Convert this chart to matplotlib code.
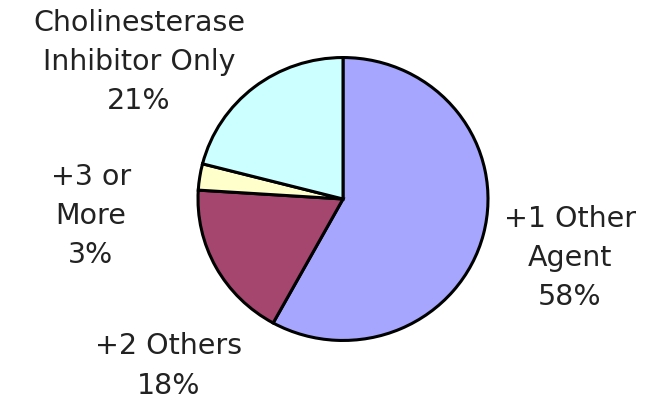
import matplotlib.pyplot as plt

plt.rcParams['font.family'] = ['DejaVu Sans']

shares = [58, 18, 3, 21]
names = ['+1 Other\nAgent', '+2 Others', '+3 or\nMore', 'Cholinesterase\nInhibitor Only']
colors = ['#A6A6FF', '#A5466F', '#FFFFCC', '#CCFFFF']

# label centres in pixels (x, y from top)
label_pos = [(570, 258), (169, 366), (91, 216), (139, 62)]

fig = plt.figure(figsize=(6.54, 4.0), dpi=100)
ax = fig.add_axes([0, 0, 1, 1])

cx, cy = 343, (400 - 199) * 410 / 400
ax.pie(shares, colors=colors, startangle=90, counterclock=False,
       center=(cx, cy), radius=145, frame=True,
       wedgeprops=dict(edgecolor='black', linewidth=2.2))
ax.set_xlim(0, 654)
ax.set_ylim(0, 410)
ax.set_aspect('auto')
ax.axis('off')

for name, val, (px, py) in zip(names, shares, label_pos):
    fig.text(px / 654, 1 - py / 400, '%s\n%d%%' % (name, val),
             ha='center', va='center', fontsize=20.5, linespacing=1.5,
             color='#222222')

fig.savefig('out.png', dpi=100)
